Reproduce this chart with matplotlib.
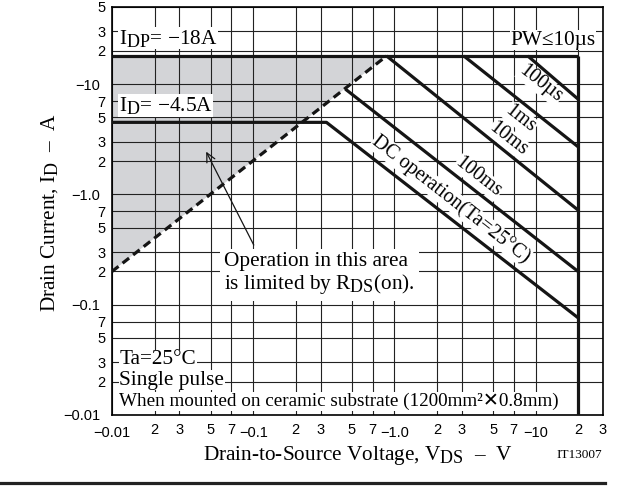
import numpy as np
import matplotlib
matplotlib.use("Agg")
import matplotlib.pyplot as plt
from matplotlib.lines import Line2D

try:
    # subscripts in the datasheet are nearly full size
    import matplotlib._mathtext as _mt
    _mt.SHRINK_FACTOR = 0.85
except Exception:
    pass

plt.rcParams['font.family'] = ['Liberation Serif', 'DejaVu Sans']
plt.rcParams['mathtext.fontset'] = 'custom'
plt.rcParams['mathtext.rm'] = 'Liberation Serif'
plt.rcParams['mathtext.it'] = 'Liberation Serif:italic'
plt.rcParams['mathtext.bf'] = 'Liberation Serif:bold'

# limits (|V|, |A|)
idp = 18.0
id_dc = 4.5
v_max = 20.0
rds_v = [0.01, 0.88]
rds_i = [0.2, 18.0]

# pulse width limit lines: end points (V list, I list)
pw_100us = ([8.8, 20.0], [18.0, 7.3])
pw_1ms = ([3.1, 20.0], [18.0, 2.7])
pw_10ms = ([0.88, 20.0], [18.0, 0.72])
pw_100ms = ([0.45, 20.0], [9.0, 0.2])
pw_dc = ([0.01, 0.33, 20.0], [id_dc, id_dc, 0.076])

# tick values / labels
decades = [0.01, 0.1, 1, 10]
decade_labels = ['−0.01', '−0.1', '−1.0', '−10']
x_minor = [0.02, 0.03, 0.05, 0.07, 0.2, 0.3, 0.5, 0.7, 2, 3, 5, 7, 20, 30]
y_minor = [0.02, 0.03, 0.05, 0.07, 0.2, 0.3, 0.5, 0.7, 2, 3, 5, 7, 20, 30, 50]


def minor_lab(vals):
    return [str(int(round(v / 10 ** np.floor(np.log10(v) + 1e-9)))) for v in vals]


fig = plt.figure(figsize=(6.28, 4.95), dpi=100)
ax = fig.add_axes([112 / 628, 1 - 415 / 495, 491 / 628, 408 / 495])
ax.set_xscale('log')
ax.set_yscale('log')
ax.set_xlim(0.01, 30)
ax.set_ylim(0.01, 50)

ax.set_xticks(decades)
ax.set_xticklabels(decade_labels)
ax.set_xticks(x_minor, minor=True)
ax.set_xticklabels(minor_lab(x_minor), minor=True)
ax.set_yticks(decades)
ax.set_yticklabels(decade_labels)
ax.set_yticks(y_minor, minor=True)
ax.set_yticklabels(minor_lab(y_minor), minor=True)
ax.tick_params(which='both', length=0, labelsize=10.5)
ax.tick_params(axis='x', which='major', pad=8)
ax.tick_params(axis='x', which='minor', pad=5.5)
ax.tick_params(axis='y', which='major', pad=8.5)
ax.tick_params(axis='y', which='minor', pad=4.5)
for lab in ax.get_xticklabels(which='both') + ax.get_yticklabels(which='both'):
    lab.set_family('Liberation Sans')

ax.grid(which='both', color='#222222', lw=0.8)
for s in ax.spines.values():
    s.set_linewidth(1.2)

# shaded R_DS(on) limited area
ax.fill([rds_v[0], rds_v[1], rds_v[0]], [rds_i[0], rds_i[1], rds_i[1]],
        color='#d3d4d7', lw=0, zorder=1)

lk = dict(color='#151515', lw=2.3, zorder=4, solid_capstyle='butt')
ax.plot([0.01, v_max], [idp, idp], **lk)
ax.plot([v_max, v_max], [idp, 0.01], **lk)
for vv, ii in (pw_100us, pw_1ms, pw_10ms, pw_100ms, pw_dc):
    ax.plot(vv, ii, **lk)
ax.plot(rds_v, rds_i, color='#151515', lw=2.3, ls=(0, (2.6, 1.6)), zorder=4)

# angle of slope -1 lines on screen
p0, p1 = ax.transData.transform([(1, 1), (10, 0.1)])
ang = np.degrees(np.arctan2(p1[1] - p0[1], p1[0] - p0[0]))

wb = dict(fc='white', ec='none', pad=0.5)
fs = 15.3
lab_kw = dict(rotation=ang, rotation_mode='anchor', ha='center', va='center',
              fontsize=14.5, zorder=3, bbox=dict(fc='white', ec='none', pad=0.3))
ax.text(10.8, 10.0, '100µs', **lab_kw)
ax.text(7.8, 4.8, '1ms', **lab_kw)
ax.text(6.4, 3.16, '10ms', **lab_kw)
ax.text(3.94, 1.43, '100ms', **lab_kw)
ax.text(2.5, 0.9, 'DC operation(Ta=25°C)', **lab_kw)

ax.text(0.0112, 26, r'I$_{\rm DP}$= −18A', fontsize=fs, va='center', ha='left', zorder=3, bbox=wb)
ax.text(0.0112, 6.4, r'I$_{\rm D}$= −4.5A', fontsize=fs, va='center', ha='left', zorder=3, bbox=wb)
ax.text(26.5, 25, 'PW≤10µs', fontsize=fs, va='center', ha='right', zorder=3, bbox=wb)

ax.annotate('', xy=(0.0455, 2.57), xytext=(0.103, 0.33),
            arrowprops=dict(arrowstyle='->', lw=0.9, color='#151515', mutation_scale=16),
            zorder=3)
ax.text(0.062, 0.19, 'Operation in this area\nis limited by R$_{\\rm DS}$(on).',
        fontsize=fs, va='center', ha='left', linespacing=1.1, zorder=3,
        bbox=dict(fc='white', ec='none', pad=3))

ax.text(0.0113, 0.0316, 'Ta=25°C', fontsize=fs, va='center', ha='left', zorder=3, bbox=wb)
ax.text(0.0113, 0.0207, 'Single pulse', fontsize=fs, va='center', ha='left', zorder=3, bbox=wb)
ax.text(0.0113, 0.0132, 'When mounted on ceramic substrate (1200mm²✕0.8mm)',
        fontsize=13.8, va='center', ha='left', zorder=3, bbox=wb)

fig.text(358 / 628, 1 - 460 / 495, r'Drain-to-Source Voltage, V$_{\rm DS}$  –  V',
         fontsize=fs, ha='center', va='baseline')
fig.text(50 / 628, 1 - 212 / 495, r'Drain Current, I$_{\rm D}$  –  A',
         fontsize=fs, ha='center', va='center', rotation=90)
fig.text(602 / 628, 1 - 455 / 495, 'IT13007', fontsize=9.5, ha='right', va='center')

fig.add_artist(Line2D([0, 605 / 628], [1 - 483 / 495] * 2, lw=2.3, color='#222222'))

fig.savefig('out.png', dpi=100)
